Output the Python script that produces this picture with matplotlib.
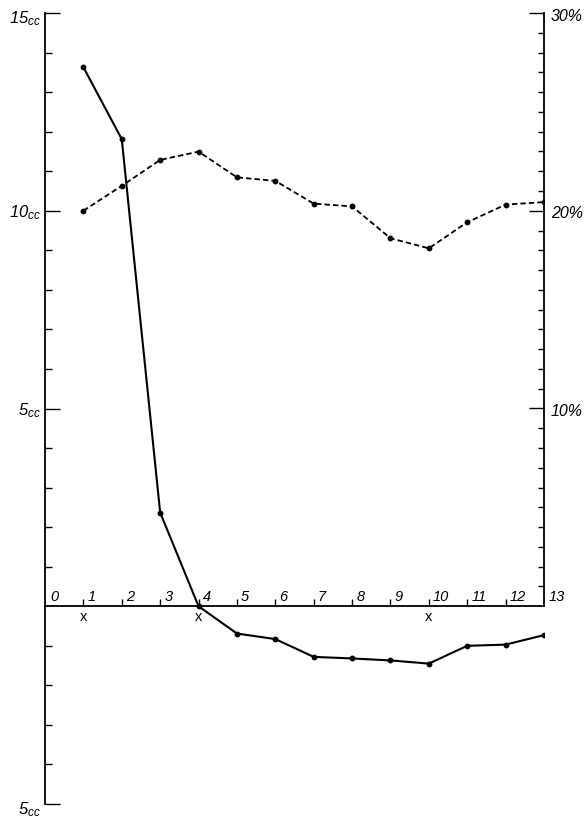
import matplotlib
matplotlib.use("Agg")
import matplotlib.pyplot as plt
from matplotlib.ticker import FixedLocator

# ---- data ----
days = [1, 2, 3, 4, 5, 6, 7, 8, 9, 10, 11, 12, 13]
volume_cc = [13.63, 11.81, 2.37, 0.0, -0.69, -0.83, -1.28, -1.32, -1.37, -1.45, -1.00, -0.97, -0.73]
percent = [20.0, 21.26, 22.57, 22.99, 21.69, 21.51, 20.36, 20.22, 18.61, 18.10, 19.42, 20.31, 20.44]

x_tick_labels = ["0", "1", "2", "3", "4", "5", "6", "7", "8", "9", "10", "11", "12", "13"]
x_marked = [1, 4, 10]
left_labels = {15: "15", 10: "10", 5: "5", -5: "5"}
right_labels = {30: "30%", 20: "20%", 10: "10%"}

plt.rcParams["mathtext.fontset"] = "custom"
plt.rcParams["mathtext.it"] = "Liberation Sans:italic"
plt.rcParams["mathtext.rm"] = "Liberation Sans:italic"
plt.rcParams["font.family"] = ["Liberation Sans", "DejaVu Sans"]

W, H = 588, 820
fig = plt.figure(figsize=(W / 100, H / 100), dpi=100)
left_px, right_px, top_px, bot_px = 45, 544, 14, 805
ax = fig.add_axes([left_px / W, 1 - bot_px / H, (right_px - left_px) / W, (bot_px - top_px) / H])
ax.set_xlim(0, 13)
ax.set_ylim(-5, 15)
ax2 = ax.twinx()
ax2.set_ylim(-10, 30)

lw_sp = 1.3
for a in (ax, ax2):
    for s in a.spines.values():
        s.set_visible(False)
ax.spines["left"].set_visible(True)
ax.spines["left"].set_linewidth(lw_sp)
ax.spines["bottom"].set_visible(True)
ax.spines["bottom"].set_position(("data", 0))
ax.spines["bottom"].set_bounds(0, 13)
ax.spines["bottom"].set_linewidth(lw_sp)
ax2.spines["right"].set_visible(True)
ax2.spines["right"].set_bounds(0, 30)
ax2.spines["right"].set_linewidth(lw_sp)

# left axis ticks
ax.yaxis.set_major_locator(FixedLocator([-5, 5, 10, 15]))
ax.yaxis.set_minor_locator(FixedLocator([v for v in range(-4, 15) if v not in (0, 5, 10)]))
ax.tick_params(axis="y", which="major", direction="in", length=11, width=1.0, labelleft=False)
ax.tick_params(axis="y", which="minor", direction="in", length=5, width=1.0)
# x axis ticks
ax.xaxis.set_major_locator(FixedLocator(days[:-1]))
ax.tick_params(axis="x", which="major", direction="in", length=5, width=1.0, labelbottom=False)
# right axis ticks
ax2.yaxis.set_major_locator(FixedLocator([10, 20, 30]))
ax2.yaxis.set_minor_locator(FixedLocator([v for v in range(1, 30) if v % 10 != 0]))
ax2.tick_params(axis="y", which="major", direction="in", length=11, width=1.0, labelright=False)
ax2.tick_params(axis="y", which="minor", direction="in", length=4, width=1.0)

# data lines
ax.plot(days, volume_cc, color="black", lw=1.5, marker="o", markersize=3.2, zorder=5)
ax2.plot(days, percent, color="black", lw=1.3, ls=(0, (3, 1.7)), marker="o", markersize=3.2, zorder=5)

fs = 12
# left labels
for v, t in left_labels.items():
    dy = -3 if v in (15, -5) else -1
    ax.annotate(r"$%s_{cc}$" % t, xy=(0, v), xycoords=("axes fraction", "data"),
                xytext=(-3, dy), textcoords="offset points", ha="right", va="center", fontsize=fs)
# right labels
for v, t in right_labels.items():
    ax2.annotate(t, xy=(1, v), xycoords=("axes fraction", "data"),
                 xytext=(5, -1.5), textcoords="offset points", ha="left", va="center",
                 fontsize=11.5, style="italic")
# x labels
for i, t in enumerate(x_tick_labels):
    ax.annotate(t, xy=(i, 0), xycoords="data", xytext=(3 if i else 4, 2.5),
                textcoords="offset points", ha="left", va="bottom", fontsize=10.5, style="italic")
for v in x_marked:
    ax.annotate("x", xy=(v, 0), xycoords="data", xytext=(0, -7), textcoords="offset points",
                ha="center", va="center", fontsize=10.5)

fig.savefig("out.png", dpi=100, facecolor="white")
